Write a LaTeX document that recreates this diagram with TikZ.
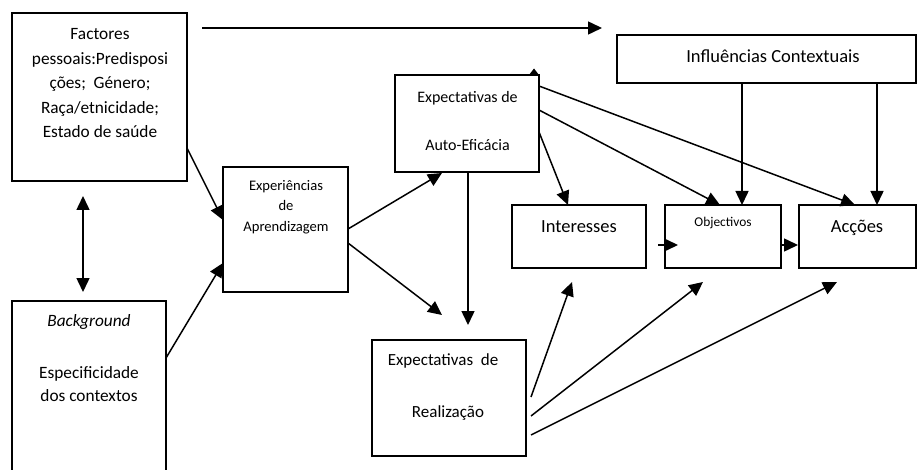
\documentclass[tikz,border=0pt]{standalone}
\usepackage{fontspec}
\setmainfont{Carlito}
\usetikzlibrary{arrows.meta}
\newcommand\fsz[1]{\fontsize{#1}{#1}\selectfont}
\begin{document}
\begin{tikzpicture}[x=1pt,y=-1pt,
  box/.style={draw, line width=1.5pt, inner sep=0pt, outer sep=0pt},
  txt/.style={anchor=base, inner sep=0pt, outer sep=0pt},
  arr/.style={line width=1.5pt, -{Triangle[length=14pt,width=13pt]}},
  darr/.style={line width=1.5pt, {Triangle[length=14pt,width=13pt]}-{Triangle[length=14pt,width=13pt]}}
]
\useasboundingbox (0,0) rectangle (917,470);
\fill[white] (0,0) rectangle (917,470);

% boxes
\node[box, minimum width=175pt, minimum height=168pt] (fact) at (99.5,97) {};
\node[box, minimum width=154pt, minimum height=189pt] (back) at (89,395.5) {};
\node[box, minimum width=125pt, minimum height=125pt] (exp) at (285.5,229.5) {};
\node[box, minimum width=144pt, minimum height=97pt] (ae) at (467,123.5) {};
\node[box, minimum width=154pt, minimum height=116pt] (real) at (449,398) {};
\node[box, minimum width=299pt, minimum height=48pt] (infl) at (766.5,59) {};
\node[box, minimum width=134pt, minimum height=63pt] (int) at (579,236.5) {};
\node[box, minimum width=116pt, minimum height=63pt] (obj) at (723,236.5) {};
\node[box, minimum width=117pt, minimum height=63pt] (acc) at (857.5,236.5) {};

% texts
\node[txt, font=\fsz{17.3}] (f1) at (100,39.5) {Factores};
\node[txt, font=\fsz{17.3}] (f2) at (100,64.5) {pessoais:Predisposi};
\node[txt, font=\fsz{17.3}] (f3) at (100,89) {ções;\ \ Género;};
\node[txt, font=\fsz{17.3}] (f4) at (100,113.5) {Raça/etnicidade;};
\node[txt, font=\fsz{17.3}] (f5) at (100,138) {Estado de saúde};

\node[txt, font=\fsz{17.3}\itshape] (b1) at (89,326.5) {Background};
\node[txt, font=\fsz{17.3}] (b2) at (89,378.3) {Especificidade};
\node[txt, font=\fsz{17.3}] (b3) at (89,401.7) {dos contextos};

\node[txt, font=\fsz{14.6}] (e1) at (286,191) {Experiências};
\node[txt, font=\fsz{14.6}] (e2) at (286,210.5) {de};
\node[txt, font=\fsz{14.6}] (e3) at (286,231) {Aprendizagem};

\node[txt, font=\fsz{16}] (a1) at (467.5,102.7) {Expectativas de};
\node[txt, font=\fsz{16}] (a2) at (467.5,151) {Auto-Eficácia};

\node[txt, font=\fsz{17}] (r1) at (443,365) {Expectativas\ \ de};
\node[txt, font=\fsz{17}] (r2) at (448,417) {Realização};

\node[txt, font=\fsz{18.5}] (i1) at (773,63) {Influências Contextuais};
\node[txt, font=\fsz{18.5}] (n1) at (579,232.3) {Interesses};
\node[txt, font=\fsz{13.4}] (o1) at (723,226.5) {Objectivos};
\node[txt, font=\fsz{18.5}] (c1) at (857,232.3) {Acções};

% free coordinates
\coordinate (topS) at (202,28);
\coordinate (topE) at (602,28);
\coordinate (aeTipR) at (468,325);
\coordinate (expTipA) at (442,173);
\coordinate (expTipR) at (442,315);
\coordinate (rTipI) at (572,282);
\coordinate (rTipO) at (703,282);
\coordinate (rTipA) at (837,282);
\coordinate (ioS) at (658,245);
\coordinate (ioE) at (678,245);
\coordinate (oaS) at (780,245);
\coordinate (oaE) at (798,245);
\coordinate (dT) at (83,196);
\coordinate (dB) at (83,292);

% connectors
\draw[arr] (topS) -- (topE);
\draw[darr] (dT) -- (dB);
\draw[arr] (fact.east |- 0,148) -- (exp.west |- 0,220);
\draw[arr] (back.east |- 0,358) -- (exp.west |- 0,263);
\draw[arr] (exp.east |- 0,229) -- (expTipA);
\draw[arr] (exp.east |- 0,243) -- (expTipR);
\draw[arr] (ae.south -| 468,0) -- (aeTipR);
\draw[arr] (ae.east |- 0,132) -- (int.north -| 568,0);
\draw[arr] (ae.east |- 0,110) -- (obj.north -| 720,0);
\draw[arr] (ae.east |- 0,86) -- (acc.north -| 855,0);
\draw[arr] (infl.south -| 742,0) -- (obj.north -| 742,0);
\draw[arr] (infl.south -| 877,0) -- (acc.north -| 877,0);
\draw[arr] (ioS) -- (ioE);
\draw[arr] (oaS) -- (oaE);
\draw[arr] (real.east |- 0,397) ++(5,0) -- (rTipI);
\draw[arr] (real.east |- 0,416) ++(5,0) -- (rTipO);
\draw[arr] (real.east |- 0,435) ++(5,0) -- (rTipA);
% small hidden arrowhead at the corner of the self-efficacy box
\fill (529,75) -- (534,68.5) -- (539,75) -- cycle;
\end{tikzpicture}
\end{document}
